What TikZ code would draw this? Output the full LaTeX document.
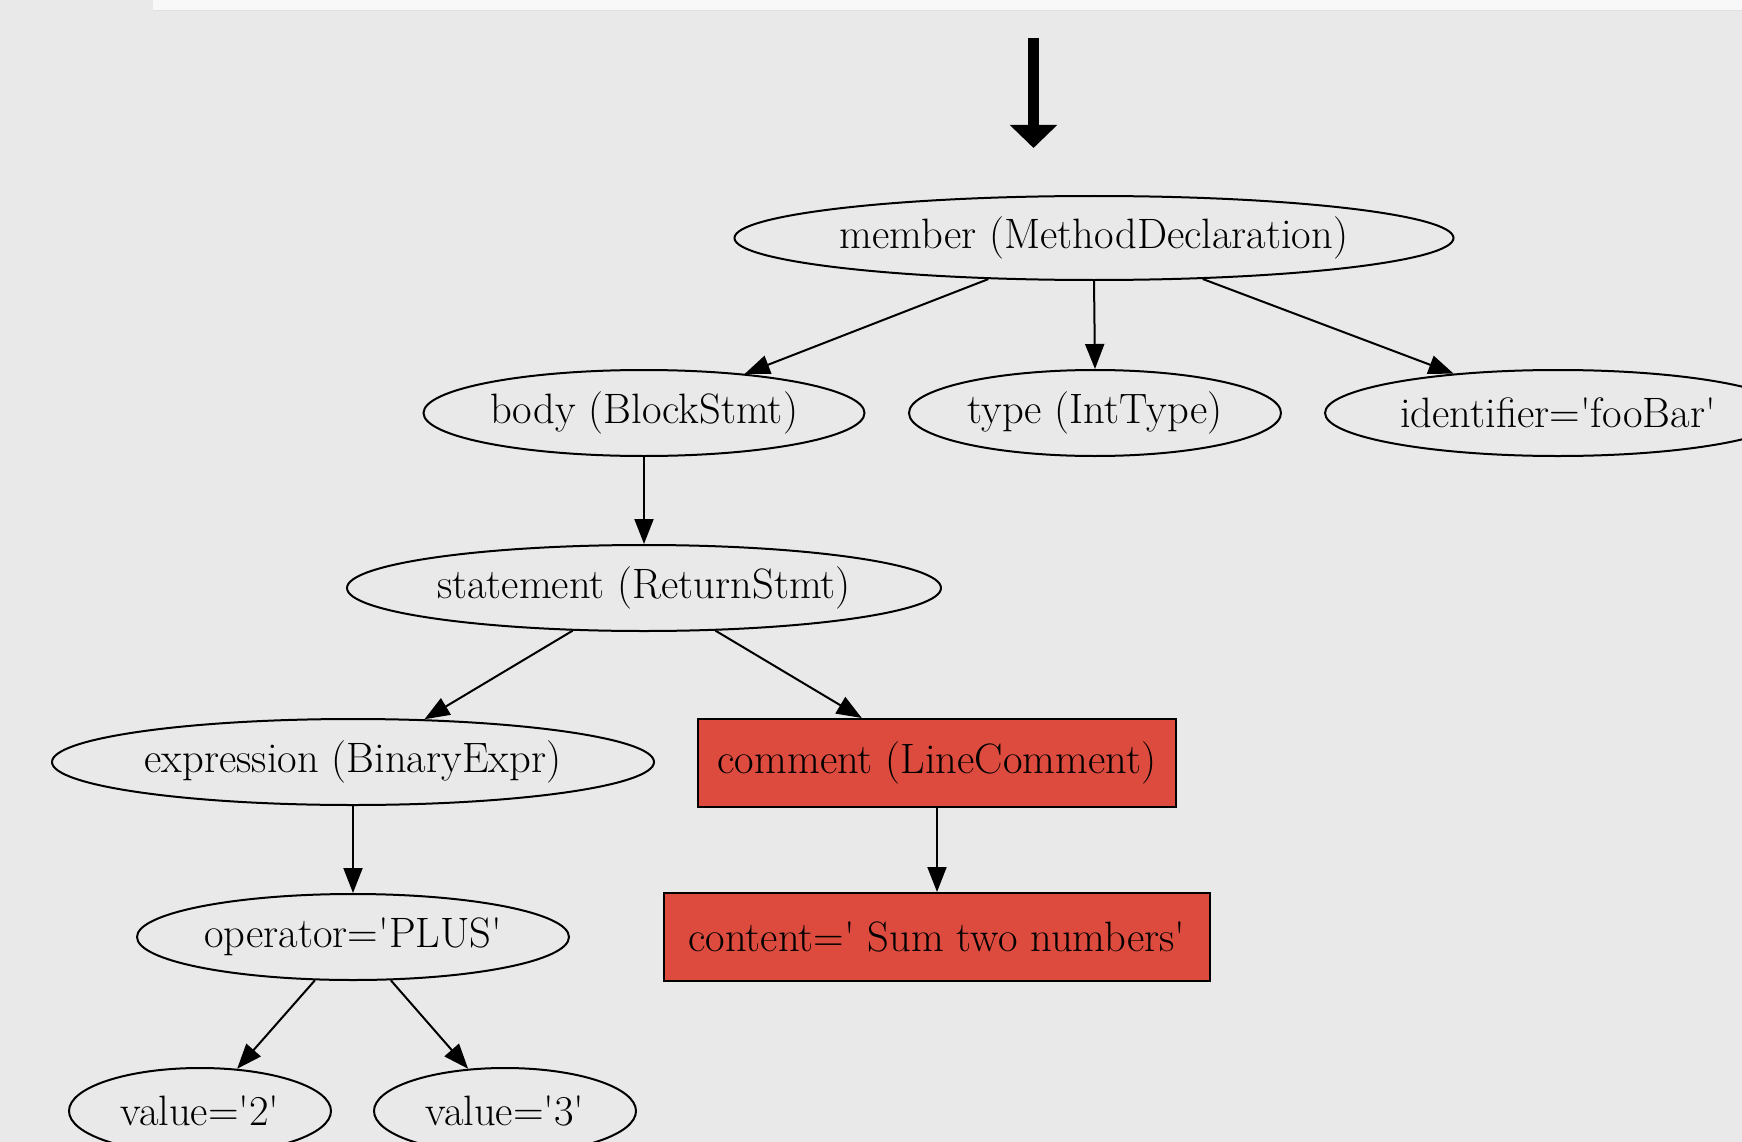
\documentclass[tikz,border=0pt]{standalone}
\usetikzlibrary{shapes.geometric,arrows.meta}
\definecolor{bgc}{HTML}{E9E9E9}
\definecolor{barc}{HTML}{F8F8F8}
\definecolor{redc}{HTML}{DD4B3E}
\newcommand{\sq}{\textquotesingle}
\begin{document}
\begin{tikzpicture}[x=1pt,y=-1pt,
  every node/.style={font=\fontsize{42.5}{50}\selectfont, inner sep=0pt},
  ell/.style={ellipse, draw, line width=2pt, minimum height=86pt},
  box/.style={rectangle, draw, line width=2pt, fill=redc, minimum height=88pt},
  edge/.style={line width=2pt, -{Triangle[length=25pt,width=19pt]}}]
\useasboundingbox (0,0) rectangle (1742,1142);
\fill[bgc] (0,0) rectangle (1742,1142);
\fill[barc] (153,0) rectangle (1742,11);
\draw[black!12, line width=1pt] (153,11) -- (1742,11);
\coordinate (arrtop) at (1033.5,38);
\coordinate (arrtip) at (1033.5,148);
\draw[line width=11pt, -{Triangle[length=23pt,width=46pt]}] (arrtop) -- (arrtip);

\node[ell, minimum width=719pt, minimum height=84pt] (member) at (1094,238) {member (MethodDeclaration)};
\node[ell, minimum width=441pt] (body) at (644,413) {body (BlockStmt)};
\node[ell, minimum width=372pt] (type) at (1095,413) {type (IntType)};
\node[ell, minimum width=466pt] (ident) at (1558,413) {identifier=\sq fooBar\sq};
\node[ell, minimum width=594pt] (stmt) at (644,588) {statement (ReturnStmt)};
\node[ell, minimum width=602pt] (expr) at (353,762) {expression (BinaryExpr)};
\node[box, minimum width=478pt] (comment) at (937,763) {comment (LineComment)};
\node[ell, minimum width=432pt] (oper) at (353,937) {operator=\sq PLUS\sq};
\node[box, minimum width=546pt] (content) at (937,937) {content=\sq\ Sum two numbers\sq};
\node[ell, minimum width=262pt] (v2) at (200,1111) {value=\sq 2\sq};
\node[ell, minimum width=262pt] (v3) at (505,1111) {value=\sq 3\sq};

\draw[edge] (member) -- (body);
\draw[edge] (member.south) -- (type.north);
\draw[edge] (member) -- (ident);
\draw[edge] (body) -- (stmt);
\draw[edge] (stmt) -- (expr);
\draw[edge] (stmt) -- (comment);
\draw[edge] (expr) -- (oper);
\draw[edge] (comment) -- (content);
\draw[edge] (oper) -- (v2);
\draw[edge] (oper) -- (v3);
\end{tikzpicture}
\end{document}
